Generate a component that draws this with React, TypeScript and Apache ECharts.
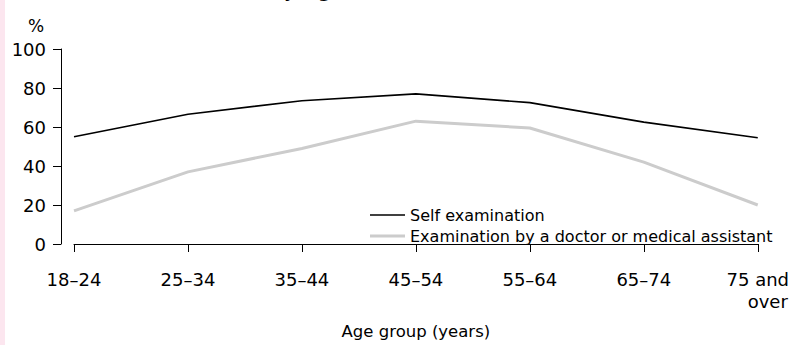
import React, { useEffect, useRef } from "react";
import * as echarts from "echarts";

const categories = ["18–24", "25–34", "35–44", "45–54", "55–64", "65–74", "75 and\nover"];
const selfExam = [55, 66.5, 73.5, 77, 72.5, 62.5, 54.5];
const doctorExam = [17, 37, 49, 63, 59.5, 42, 20];
const seriesNames = ["Self examination", "Examination by a doctor or medical assistant"];
const yTicks = { min: 0, max: 100, interval: 20 };

const FONT = "DejaVu Sans";

export default function App() {
  const ref = useRef<HTMLDivElement>(null);
  useEffect(() => {
    if (!ref.current) return;
    const chart = echarts.init(ref.current, null, { renderer: "svg" });
    chart.setOption({
      animation: false,
      backgroundColor: "#ffffff",
      textStyle: { fontFamily: FONT, color: "#000" },
      grid: { left: 74, right: 31, top: 49, bottom: 97, containLabel: false },
      graphic: [
        { type: "rect", shape: { x: 0, y: 0, width: 5, height: 345 }, style: { fill: "#fce6ef" } },
        {
          type: "text",
          x: 345,
          y: -11,
          style: {
            text: "Breast examination by age",
            fontFamily: FONT,
            fontSize: 22,
            fill: "#000",
            textAlign: "right",
            textVerticalAlign: "middle",
          },
        },
        {
          type: "text",
          x: 36,
          y: 26,
          style: {
            text: "%",
            fontFamily: FONT,
            fontSize: 17,
            fill: "#000",
            textAlign: "center",
            textVerticalAlign: "middle",
          },
        },
      ],
      legend: {
        orient: "vertical",
        left: 365,
        top: 202,
        itemWidth: 35,
        itemHeight: 18,
        itemGap: 5,
        symbolKeepAspect: true,
        textStyle: { fontFamily: FONT, fontSize: 16, color: "#000" },
        data: [
          { name: seriesNames[0], icon: "path://M0,0 L35,0 L35,1.6 L0,1.6 Z", itemStyle: { color: "#000" } },
          { name: seriesNames[1], icon: "path://M0,0 L35,0 L35,3 L0,3 Z", itemStyle: { color: "#cccccc" } },
        ],
      },
      xAxis: {
        type: "category",
        data: categories,
        boundaryGap: false,
        offset: 12,
        axisLine: { show: true, lineStyle: { color: "#000", width: 1 } },
        axisTick: { show: true, length: 8, interval: 0, lineStyle: { color: "#000" } },
        axisLabel: {
          interval: 0,
          fontFamily: FONT,
          fontSize: 18,
          color: "#000",
          margin: 12,
          lineHeight: 22,
          formatter: (v: string) => {
            if (v.indexOf("\n") >= 0) {
              const parts = v.split("\n");
              return "{a|" + parts[0] + "}\n{b|" + parts[1] + "}";
            }
            return v;
          },
          rich: {
            a: { fontFamily: FONT, fontSize: 18, color: "#000", lineHeight: 22 },
            b: { fontFamily: FONT, fontSize: 18, color: "#000", lineHeight: 22, padding: [0, 0, 0, 20] },
          },
        },
        name: "Age group (years)",
        nameLocation: "middle",
        nameGap: 67,
        nameTextStyle: { fontFamily: FONT, fontSize: 16.5, color: "#000" },
        splitLine: { show: false },
      },
      yAxis: {
        type: "value",
        min: yTicks.min,
        max: yTicks.max,
        interval: yTicks.interval,
        offset: 13,
        axisLine: { show: true, lineStyle: { color: "#000", width: 1 } },
        axisTick: { show: true, length: 8, lineStyle: { color: "#000" } },
        axisLabel: { fontFamily: FONT, fontSize: 18, color: "#000", margin: 15 },
        splitLine: { show: false },
      },
      series: [
        {
          name: seriesNames[0],
          type: "line",
          data: selfExam,
          symbol: "none",
          lineStyle: { color: "#000", width: 1.6 },
          itemStyle: { color: "#000" },
        },
        {
          name: seriesNames[1],
          type: "line",
          data: doctorExam,
          symbol: "none",
          lineStyle: { color: "#cccccc", width: 3 },
          itemStyle: { color: "#cccccc" },
        },
      ],
    });
    return () => chart.dispose();
  }, []);
  return (
    <div
      ref={ref}
      style={{ position: "absolute", left: 0, top: 0, width: 792, height: 345 }}
    />
  );
}
